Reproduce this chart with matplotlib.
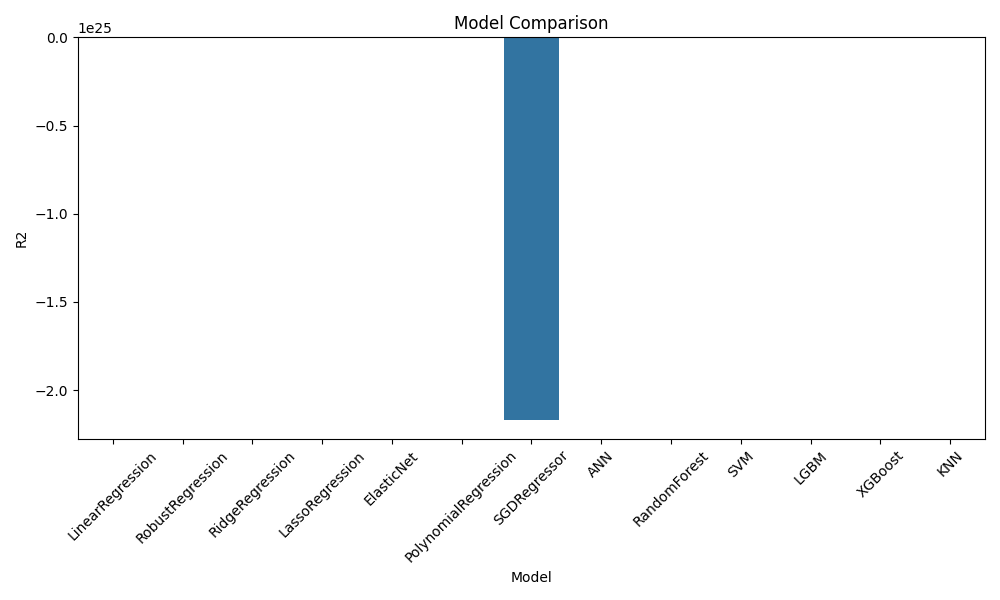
import matplotlib
matplotlib.use("Agg")
import matplotlib.pyplot as plt
import seaborn as sns
import pandas as pd

models = ['LinearRegression', 'RobustRegression', 'RidgeRegression', 'LassoRegression',
          'ElasticNet', 'PolynomialRegression', 'SGDRegressor', 'ANN', 'RandomForest',
          'SVM', 'LGBM', 'XGBoost', 'KNN']
r2_scores = [0.72, 0.70, 0.72, 0.71, 0.69, 0.78, -2.167e25, 0.80, 0.86, 0.74, 0.87, 0.88, 0.79]

results = pd.DataFrame({'Model': models, 'R2': r2_scores})

plt.figure(figsize=(10, 6))
sns.barplot(x='Model', y='R2', data=results)
plt.title('Model Comparison')
plt.xticks(rotation=45)
plt.tight_layout()
plt.savefig('out.png', dpi=100)
